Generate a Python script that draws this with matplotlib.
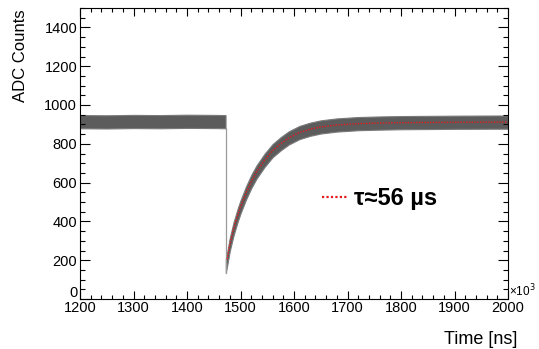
import matplotlib
matplotlib.use("Agg")
import matplotlib.pyplot as plt
from matplotlib.ticker import MultipleLocator, FuncFormatter

plt.rcParams['font.family'] = ['Liberation Sans', 'DejaVu Sans']

# waveform, time in units of 10^3 ns
base_t = [1200, 1250, 1300, 1350, 1400, 1450, 1472]
base_adc = [914, 913, 915, 914, 916, 915, 914]
drop_t = 1472
drop_lo = 135
rise_t = [1472.5, 1475, 1480, 1487, 1495, 1500, 1510, 1520, 1530, 1545, 1560,
          1575, 1590, 1610, 1630, 1650, 1680, 1720, 1760, 1800, 1900, 2000]
rise_adc = [170, 205, 282, 362, 435, 475, 545, 605, 655, 715, 765,
            800, 830, 858, 875, 887, 897, 904, 907, 909, 911, 912]
noise = 34  # half width of the noise band in ADC counts

# exponential fit
fit_t = rise_t[1:]
fit_adc = rise_adc[1:]
fit_label = "τ≈56 µs"

fig = plt.figure(figsize=(5.39, 3.49), dpi=100)
ax = fig.add_axes([80 / 539, 50 / 349, 428 / 539, 291 / 349])

band = '#5c5c5c'
ax.fill_between(base_t, [v - noise for v in base_adc], [v + noise for v in base_adc],
                color=band, lw=0.8, ec='#7a7a7a')
ax.plot([drop_t, drop_t], [base_adc[-1] - noise, drop_lo], color='#9a9a9a', lw=0.9)
ax.fill_between(rise_t, [v - noise for v in rise_adc], [v + noise for v in rise_adc],
                color=band, lw=0.8, ec='#7a7a7a')
fit_line, = ax.plot(fit_t, fit_adc, color='#e41a1c', lw=1.0, ls=(0, (1, 1)))

ax.set_xlim(1200, 2000)
ax.set_ylim(0, 1500)
ax.xaxis.set_major_locator(MultipleLocator(100))
ax.xaxis.set_minor_locator(MultipleLocator(20))
ax.yaxis.set_major_locator(MultipleLocator(200))
ax.yaxis.set_minor_locator(MultipleLocator(50))
# the "0" is drawn separately, ROOT puts it a bit above the corner
ax.yaxis.set_major_formatter(FuncFormatter(lambda v, p: "" if v == 0 else f"{v:.0f}"))
ax.tick_params(which='both', direction='in', top=True, right=True,
               labelsize=10.5, width=0.8, color='black')
ax.tick_params(axis='y', which='major', length=7.5, pad=2)
ax.tick_params(axis='y', which='minor', length=3.8)
ax.tick_params(axis='x', which='major', length=6, pad=1.5)
ax.tick_params(axis='x', which='minor', length=3)
for s in ax.spines.values():
    s.set_linewidth(0.8)
    s.set_color('black')
ax.annotate("0", xy=(0, 0), xycoords='axes fraction', xytext=(-2, 4),
            textcoords='offset points', ha='right', va='center', fontsize=10.5)

leg = ax.legend([fit_line], [fit_label], loc='center left',
                bbox_to_anchor=(0.565, 0.345), frameon=False,
                prop={'size': 17, 'weight': 'bold'}, handlelength=1.05,
                handletextpad=0.3, borderpad=0, borderaxespad=0)
for h in leg.legend_handles:
    h.set_linewidth(1.6)

ax.text(1.003, 0.0, "×10$^3$", transform=ax.transAxes, fontsize=8.5,
        ha='left', va='bottom')
fig.text(21 / 539, 1 - 9 / 349, "ADC Counts", rotation=90, ha='center',
         va='top', fontsize=12)
fig.text(517 / 539, 1 - 340 / 349, "Time [ns]", ha='right', va='center',
         fontsize=13)

fig.savefig("out.png", dpi=100)
